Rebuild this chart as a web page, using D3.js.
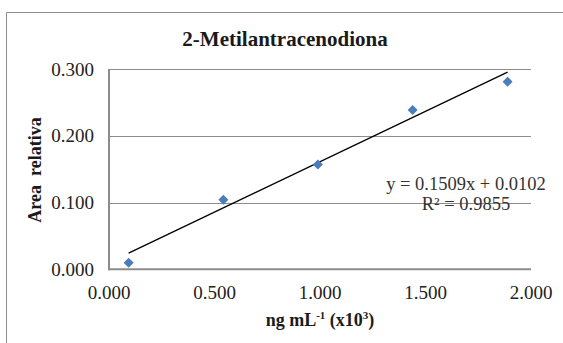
<!DOCTYPE html>
<html><head><meta charset="utf-8">
<script src="https://cdn.jsdelivr.net/npm/d3@7"></script>
<style>
html,body{margin:0;padding:0;background:#fff;}
svg{display:block;font-family:"Liberation Serif","Times New Roman",serif;}
</style></head>
<body>
<svg id="chart" width="563" height="343"></svg>
<script>
const title = "2-Metilantracenodiona";
const xValues = [0.093, 0.542, 0.990, 1.439, 1.889];
const yValues = [0.0099, 0.104, 0.157, 0.2385, 0.281];
const xTicks = [0, 0.5, 1.0, 1.5, 2.0];
const yTicks = [0, 0.1, 0.2, 0.3];
const slope = 0.1509, intercept = 0.0102;
const eqText = "y = 0.1509x + 0.0102";
const r2Text = "R² = 0.9855";

const svg = d3.select("#chart");
const pL = 109, pR = 531, pT = 69, pB = 269.3;
const x = d3.scaleLinear().domain([0, 2]).range([pL, pR]);
const y = d3.scaleLinear().domain([0, 0.3]).range([pB, pT]);

// outer frame
svg.append("path").attr("d", "M6.5,343 L6.5,12.5 L563,12.5")
  .attr("fill", "none").attr("stroke", "#8c8c8c").attr("stroke-width", 1);

// title
svg.append("text").attr("x", 285).attr("y", 46).attr("text-anchor", "middle")
  .attr("font-weight", "bold").attr("font-size", 21).attr("fill", "#1a1a1a").text(title);

// gridlines
svg.append("g").selectAll("line").data(yTicks.filter(d => d > 0)).join("line")
  .attr("x1", pL).attr("x2", pR)
  .attr("y1", d => Math.round(y(d)) + 0.5).attr("y2", d => Math.round(y(d)) + 0.5)
  .attr("stroke", "#8c8c8c").attr("stroke-width", 1);

// axes lines
svg.append("line").attr("x1", pL).attr("x2", pL).attr("y1", pT).attr("y2", pB + 1)
  .attr("stroke", "#8c8c8c").attr("stroke-width", 2);
svg.append("line").attr("x1", pL - 1).attr("x2", pR).attr("y1", pB).attr("y2", pB)
  .attr("stroke", "#8c8c8c").attr("stroke-width", 2);

// y tick labels
svg.append("g").selectAll("text").data(yTicks).join("text")
  .attr("x", 94).attr("y", d => y(d) + 6.5).attr("text-anchor", "end")
  .attr("font-size", 19).attr("fill", "#222").text(d => d3.format(".3f")(d));

// x tick labels
svg.append("g").selectAll("text").data(xTicks).join("text")
  .attr("x", d => x(d)).attr("y", 299).attr("text-anchor", "middle")
  .attr("font-size", 19).attr("fill", "#222").text(d => d3.format(".3f")(d));

// axis titles
svg.append("text").attr("transform", "translate(41,170) rotate(-90)")
  .attr("text-anchor", "middle").attr("font-weight", "bold").attr("font-size", 18)
  .attr("fill", "#1a1a1a").style("white-space", "pre").text("Area  relativa");

const xl = svg.append("text").attr("x", 320).attr("y", 326).attr("text-anchor", "middle")
  .attr("font-weight", "bold").attr("font-size", 18).attr("fill", "#1a1a1a");
xl.append("tspan").text("ng mL");
xl.append("tspan").attr("font-size", 11).attr("dy", -7).text("-1");
xl.append("tspan").attr("dy", 7).text(" (x10");
xl.append("tspan").attr("font-size", 11).attr("dy", -7).text("3");
xl.append("tspan").attr("dy", 7).text(")");

// trendline
const xMin = d3.min(xValues), xMax = d3.max(xValues);
svg.append("line")
  .attr("x1", x(xMin)).attr("y1", y(slope * xMin + intercept))
  .attr("x2", x(xMax)).attr("y2", y(slope * xMax + intercept))
  .attr("stroke", "#000").attr("stroke-width", 1.3);

// points
svg.append("g").selectAll("path").data(xValues.map((v, i) => [v, yValues[i]])).join("path")
  .attr("d", d3.symbol().type(d3.symbolDiamond2).size(64))
  .attr("transform", d => `translate(${x(d[0])},${y(d[1])})`)
  .attr("fill", "#4a7ebb");

// equation
svg.append("text").attr("x", 466).attr("y", 190).attr("text-anchor", "middle")
  .attr("font-size", 18.5).attr("fill", "#333").text(eqText);
svg.append("text").attr("x", 466).attr("y", 210).attr("text-anchor", "middle")
  .attr("font-size", 18.5).attr("fill", "#333").text(r2Text);
</script>
</body></html>
